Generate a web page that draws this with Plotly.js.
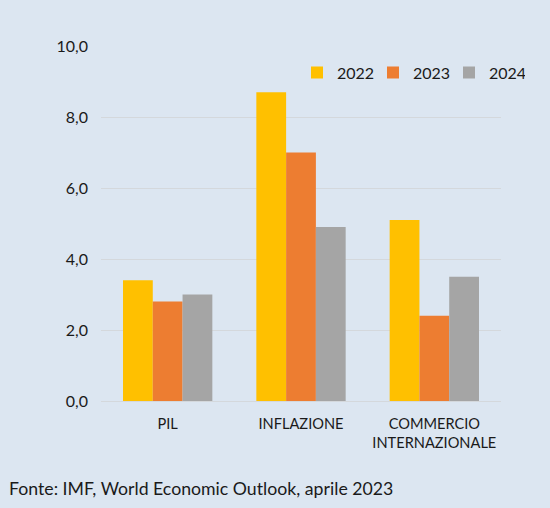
<!DOCTYPE html>
<html>
<head>
<meta charset="utf-8">
<script src="https://cdn.plot.ly/plotly-3.0.1.min.js"></script>
<style>html,body{margin:0;padding:0;background:#dce6f1;}#chart{width:550px;height:508px;}</style>
</head>
<body>
<div id="chart"></div>
<script>
const categories = ["PIL", "INFLAZIONE", "COMMERCIO<br>INTERNAZIONALE"];
const seriesNames = ["2022", "2023", "2024"];
const values2022 = [3.4, 8.7, 5.1];
const values2023 = [2.8, 7.0, 2.4];
const values2024 = [3.0, 4.9, 3.5];
const colors = ["#ffc000", "#ed7d31", "#a5a5a5"];
const tickVals = [0, 2, 4, 6, 8, 10];
const tickText = ["0,0", "2,0", "4,0", "6,0", "8,0", "10,0"];
const source = "Fonte: IMF, World Economic Outlook, aprile 2023";

const allValues = [values2022, values2023, values2024];
const traces = seriesNames.map((n, i) => ({
  type: "bar", name: n, x: categories, y: allValues[i],
  marker: {color: colors[i]}, hoverinfo: "y"
}));

const font = "Lato, sans-serif";
const txt = "#1a1a1a";
const layout = {
  width: 550, height: 508,
  paper_bgcolor: "#dce6f1", plot_bgcolor: "#dce6f1",
  margin: {l: 101, r: 49, t: 46, b: 107},
  barmode: "group", bargap: 0.33, bargroupgap: 0,
  font: {family: font, color: txt, size: 16},
  xaxis: {showgrid: false, showline: false, zeroline: false, ticks: "",
          ticklabelstandoff: 12,
          tickfont: {family: font, size: 14.6, color: txt}},
  yaxis: {range: [0, 10], tickvals: tickVals, ticktext: tickText,
          showgrid: true, gridcolor: "#d4d8dc", gridwidth: 1,
          zeroline: true, zerolinecolor: "#d4d8dc", zerolinewidth: 1,
          showline: false, ticks: "", ticklabelstandoff: 12,
          tickfont: {family: font, size: 16, color: txt}},
  legend: {orientation: "h", x: 1.06, xanchor: "right", y: 0.925, yanchor: "middle",
           bgcolor: "rgba(0,0,0,0)", font: {family: font, size: 16, color: txt},
           itemwidth: 30, entrywidth: 31, entrywidthmode: "pixels", traceorder: "normal"},
  showlegend: true,
  annotations: [{text: source, xref: "paper", yref: "paper", x: 0, y: 0,
                 xanchor: "left", yanchor: "middle", showarrow: false,
                 xshift: -94, yshift: -87,
                 font: {family: font, size: 17.7, color: txt}}]
};
Plotly.newPlot("chart", traces, layout, {displayModeBar: false, staticPlot: true});
</script>
</body>
</html>
